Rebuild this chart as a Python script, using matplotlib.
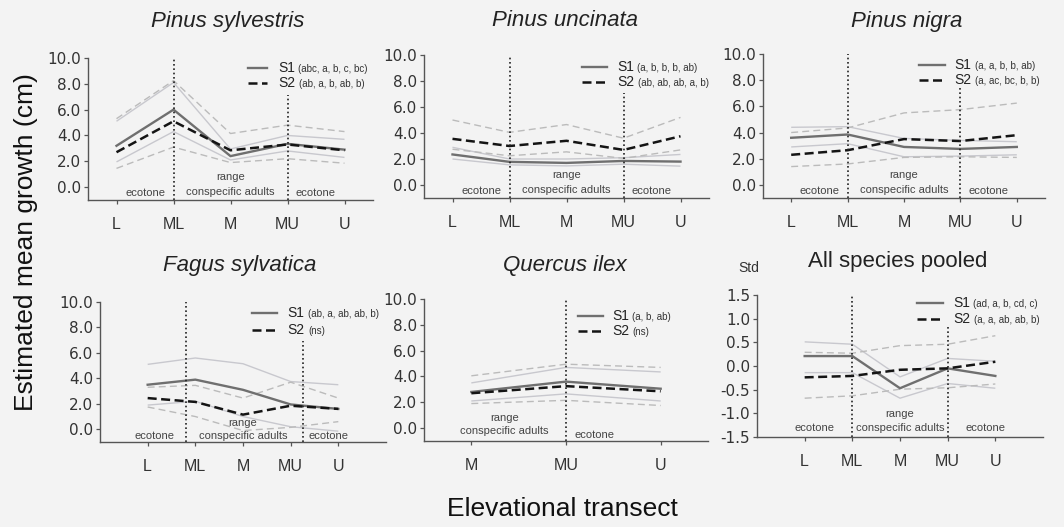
import matplotlib
matplotlib.use("Agg")
import matplotlib.pyplot as plt

plt.rcParams['font.family'] = ['Liberation Sans', 'DejaVu Sans']
plt.rcParams['axes.unicode_minus'] = False

# ---- data -------------------------------------------------------------
cats5 = ['L', 'ML', 'M', 'MU', 'U']
cats3 = ['M', 'MU', 'U']

# Pinus sylvestris
ps_s1 = [3.2, 6.0, 2.4, 3.35, 2.9]
ps_s1_hi = [5.1, 8.1, 2.95, 4.0, 3.7]
ps_s1_lo = [1.95, 4.3, 2.1, 2.8, 2.3]
ps_s2 = [2.7, 5.1, 2.85, 3.3, 2.85]
ps_s2_hi = [5.3, 8.25, 4.15, 4.8, 4.3]
ps_s2_lo = [1.45, 3.1, 1.9, 2.2, 1.85]

# Pinus uncinata
pu_s1 = [2.35, 1.78, 1.7, 1.85, 1.8]
pu_s1_hi = [2.9, 2.0, 2.0, 2.1, 2.35]
pu_s1_lo = [2.0, 1.55, 1.47, 1.6, 1.45]
pu_s2 = [3.55, 3.0, 3.4, 2.7, 3.75]
pu_s2_hi = [5.0, 4.05, 4.65, 3.6, 5.2]
pu_s2_lo = [2.75, 2.25, 2.55, 2.05, 2.7]

# Pinus nigra
pn_s1 = [3.6, 3.85, 2.9, 2.75, 2.9]
pn_s1_hi = [4.4, 4.45, 3.55, 3.4, 3.3]
pn_s1_lo = [2.9, 3.15, 2.15, 2.2, 2.3]
pn_s2 = [2.3, 2.65, 3.5, 3.35, 3.8]
pn_s2_hi = [4.0, 4.35, 5.5, 5.75, 6.25]
pn_s2_lo = [1.4, 1.6, 2.1, 2.15, 2.1]

# Fagus sylvatica
fs_s1 = [3.5, 3.9, 3.1, 1.95, 1.6]
fs_s1_hi = [5.1, 5.6, 5.15, 3.75, 3.5]
fs_s1_lo = [1.9, 2.2, 1.0, 0.2, -0.15]
fs_s2 = [2.45, 2.15, 1.15, 1.85, 1.6]
fs_s2_hi = [3.3, 3.45, 2.45, 3.7, 2.45]
fs_s2_lo = [1.75, 1.0, -0.1, 0.15, 0.6]

# Quercus ilex
qi_s1 = [2.8, 3.6, 3.05]
qi_s1_hi = [3.5, 4.7, 4.35]
qi_s1_lo = [2.1, 2.65, 2.1]
qi_s2 = [2.7, 3.25, 2.85]
qi_s2_hi = [4.05, 4.95, 4.7]
qi_s2_lo = [1.9, 2.15, 1.75]

# All species pooled (standardised)
ap_s1 = [0.21, 0.21, -0.47, -0.05, -0.21]
ap_s1_hi = [0.51, 0.46, -0.23, 0.16, 0.1]
ap_s1_lo = [-0.14, -0.14, -0.68, -0.37, -0.47]
ap_s2 = [-0.24, -0.21, -0.08, -0.05, 0.09]
ap_s2_hi = [0.29, 0.27, 0.43, 0.46, 0.64]
ap_s2_lo = [-0.68, -0.63, -0.49, -0.46, -0.38]

titles = ['Pinus sylvestris', 'Pinus uncinata', 'Pinus nigra',
          'Fagus sylvatica', 'Quercus ilex', 'All species pooled']
s1_letters = ['(abc, a, b, c, bc)', '(a, b, b, b, ab)', '(a, a, b, b, ab)',
              '(ab, a, ab, ab, b)', '(a, b, ab)', '(ad, a, b, cd, c)']
s2_letters = ['(ab, a, b, ab, b)', '(ab, ab, ab, a, b)', '(a, ac, bc, b, b)',
              '(ns)', '(ns)', '(a, a, ab, ab, b)']

# dotted boundary lines: (x index, top value)
bounds = [[(1, 10), (3, 7.1)], [(1, 10), (3, 7.1)], [(1, 10), (3, 7.4)],
          [(0.8, 10), (3.25, 6.9)], [(1, 10)], [(1, 1.5), (3, 0.82)]]

# ---- layout -----------------------------------------------------------
W, H = 1064, 527
fig = plt.figure(figsize=(W / 100, H / 100), dpi=100)
fig.patch.set_facecolor('#f3f3f3')

def px_axes(x0, x1, ytop, ybot):
    return fig.add_axes([x0 / W, 1 - ybot / H, (x1 - x0) / W, (ybot - ytop) / H])

axes = [px_axes(88, 373, 58, 200), px_axes(424, 709, 55, 198),
        px_axes(763, 1045, 54, 198), px_axes(100, 386, 302, 442),
        px_axes(424, 708, 299, 441), px_axes(757, 1043, 295, 437)]

# title centres in pixels
title_xy = [(228, 22), (565, 21), (907, 21), (240, 266), (565, 265), (898, 262)]

panels = [
    (cats5, ps_s1, ps_s1_hi, ps_s1_lo, ps_s2, ps_s2_hi, ps_s2_lo),
    (cats5, pu_s1, pu_s1_hi, pu_s1_lo, pu_s2, pu_s2_hi, pu_s2_lo),
    (cats5, pn_s1, pn_s1_hi, pn_s1_lo, pn_s2, pn_s2_hi, pn_s2_lo),
    (cats5, fs_s1, fs_s1_hi, fs_s1_lo, fs_s2, fs_s2_hi, fs_s2_lo),
    (cats3, qi_s1, qi_s1_hi, qi_s1_lo, qi_s2, qi_s2_hi, qi_s2_lo),
    (cats5, ap_s1, ap_s1_hi, ap_s1_lo, ap_s2, ap_s2_hi, ap_s2_lo),
]

xlims = [(-0.5, 4.5)] * 3 + [(-1, 5), (-0.5, 2.5), (-1, 5)]
# legend anchor (axes fraction): line x0, line x1, text x, y S1, y S2
leg_pos = [(0.561, 0.628, 0.667, 0.93, 0.824),
           (0.554, 0.642, 0.677, 0.916, 0.811),
           (0.553, 0.645, 0.68, 0.924, 0.819),
           (0.532, 0.62, 0.655, 0.92, 0.80),
           (0.542, 0.63, 0.662, 0.88, 0.775),
           (0.559, 0.65, 0.685, 0.944, 0.831)]
# region labels: (x index, y value, text)
regions = [
    [(0.5, -0.45, 'ecotone'), (2, 0.75, 'range'), (2, -0.4, 'conspecific adults'), (3.5, -0.45, 'ecotone')],
    [(0.5, -0.45, 'ecotone'), (2, 0.75, 'range'), (2, -0.4, 'conspecific adults'), (3.5, -0.45, 'ecotone')],
    [(0.5, -0.45, 'ecotone'), (2, 0.75, 'range'), (2, -0.4, 'conspecific adults'), (3.5, -0.45, 'ecotone')],
    [(0.15, -0.55, 'ecotone'), (2, 0.5, 'range'), (2, -0.55, 'conspecific adults'), (3.8, -0.55, 'ecotone')],
    [(0.35, 0.8, 'range'), (0.35, -0.2, 'conspecific adults'), (1.3, -0.5, 'ecotone')],
    [(0.2, -1.32, 'ecotone'), (2, -1.02, 'range'), (2, -1.3, 'conspecific adults'), (3.8, -1.32, 'ecotone')],
]

c_s1 = '#6f6f6f'
c_s2 = '#141414'
c_ci1 = '#c8c8ce'
c_ci2 = '#bbbbbb'
c_txt = '#333333'

for i, ax in enumerate(axes):
    cats, s1, s1h, s1l, s2, s2h, s2l = panels[i]
    x = list(range(len(cats)))
    ax.set_facecolor('none')
    ax.plot(x, s1h, color=c_ci1, lw=1.0, solid_capstyle='butt')
    ax.plot(x, s1l, color=c_ci1, lw=1.0, solid_capstyle='butt')
    ax.plot(x, s2h, color=c_ci2, lw=1.0, dashes=(5, 3))
    ax.plot(x, s2l, color=c_ci2, lw=1.0, dashes=(5, 3))
    ax.plot(x, s1, color=c_s1, lw=1.7)
    ax.plot(x, s2, color=c_s2, lw=1.8, dashes=(3.6, 1.8))
    if i == 5:
        ylo, yhi = -1.5, 1.5
        yt = [-1.5, -1.0, -0.5, 0.0, 0.5, 1.0, 1.5]
    else:
        ylo, yhi = -1.0, 10.0
        yt = [0, 2, 4, 6, 8, 10]
    for bx, btop in bounds[i]:
        ax.vlines(bx, ylo, btop, colors='#222222', linestyles=(0, (1, 1.6)), lw=1.2)
    ax.set_xlim(*xlims[i])
    ax.set_ylim(ylo, yhi)
    ax.set_xticks(x)
    ax.set_xticklabels(cats)
    ax.set_yticks(yt)
    ax.set_yticklabels(['%.1f' % v for v in yt], family='DejaVu Sans')
    for side in ('top', 'right'):
        ax.spines[side].set_visible(False)
    for side in ('left', 'bottom'):
        ax.spines[side].set_color('#555555')
        ax.spines[side].set_linewidth(1.0)
    ax.tick_params(axis='y', length=3, width=0.9, pad=2, labelsize=11,
                   colors='#555555', labelcolor=c_txt)
    ax.tick_params(axis='x', length=3, width=0.9, pad=9, labelsize=11.5,
                   colors='#555555', labelcolor=c_txt)
    tx_, ty_ = title_xy[i]
    fig.text(tx_ / W, 1 - ty_ / H, titles[i], fontsize=16,
             style='italic' if i < 5 else 'normal', color='#222222',
             ha='center', va='center')

    lx0, lx1, tx, y1, y2 = leg_pos[i]
    ax.plot([lx0, lx1], [y1, y1], transform=ax.transAxes, color=c_s1, lw=1.7, clip_on=False)
    ax.plot([lx0, lx1], [y2, y2], transform=ax.transAxes, color=c_s2, lw=1.8,
            dashes=(3.6, 1.8), clip_on=False)
    for yy, lab, sub in ((y1, 'S1', s1_letters[i]), (y2, 'S2', s2_letters[i])):
        t = ax.text(tx, yy, lab, transform=ax.transAxes, fontsize=10,
                    va='center', ha='left', color='#222222')
        ax.annotate(sub, xy=(1, 0.1), xycoords=t, xytext=(2.5, 0),
                    textcoords='offset points', fontsize=7, va='bottom',
                    ha='left', color='#333333')

    for rx, ry, rt in regions[i]:
        ax.text(rx, ry, rt, fontsize=8, ha='center', va='center', color='#444444')

axes[5].text(-0.03, 1.19, 'Std', transform=axes[5].transAxes, fontsize=10,
             ha='center', va='center', color='#333333')

fig.text(0.024, 1 - 242 / H, 'Estimated mean growth (cm)', rotation=90, fontsize=19,
         ha='center', va='center', color='#111111')
fig.text(562 / W, 1 - 509 / H, 'Elevational transect', fontsize=19,
         ha='center', va='center', color='#111111')

fig.savefig('out.png', dpi=100, facecolor=fig.get_facecolor())
